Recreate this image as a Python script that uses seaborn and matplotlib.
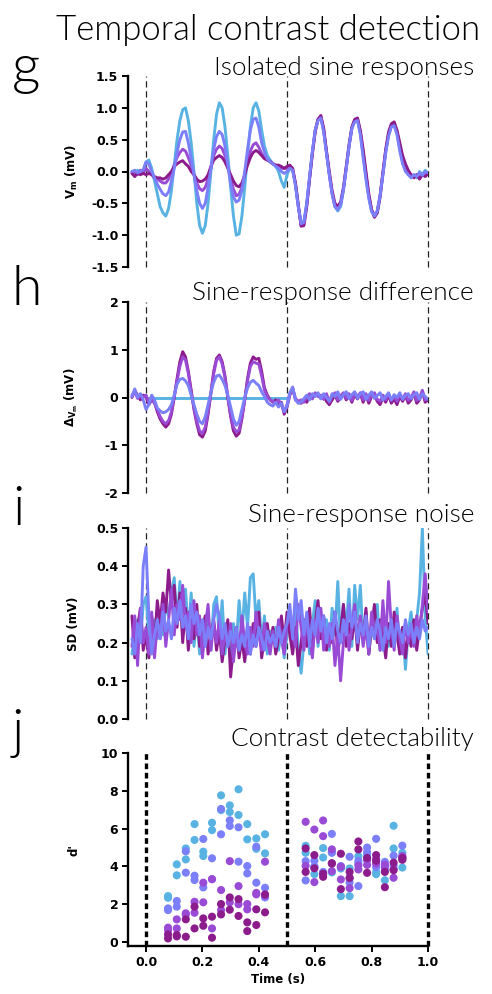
import numpy as np
import pandas as pd
import matplotlib
matplotlib.use("Agg")
import matplotlib.pyplot as plt
import seaborn as sns

# ---------------- data ----------------
# sampling times of traces (s), 10 ms grid from -0.05 to 1.00
t = np.round(np.arange(-0.05, 1.0 + 1e-9, 0.01), 2)

conds = ["c1", "c2", "c3", "c4"]          # cyan, periwinkle, violet, dark purple
colors = {"c1": "#58b3e3", "c2": "#7c7ffa", "c3": "#9a4bd6", "c4": "#8c1c8c"}

# g: isolated sine responses (mV)
g_c1 = [0.00, -0.03, 0.02, -0.03, 0.00, 0.15, 0.18, 0.05, -0.15, -0.35,
        -0.55, -0.65, -0.70, -0.58, -0.30, 0.10, 0.50, 0.80, 0.97, 1.00,
        0.80, 0.45, 0.00, -0.50, -0.85, -0.97, -0.85, -0.50, 0.00, 0.50,
        0.90, 1.08, 1.00, 0.70, 0.25, -0.25, -0.70, -1.00, -0.98, -0.70,
        -0.25, 0.25, 0.70, 1.00, 1.08, 0.95, 0.65, 0.40, 0.25, 0.18,
        0.12, 0.08, 0.00, -0.15, -0.25, -0.05, 0.05, 0.02, -0.20, -0.55,
        -0.80, -0.78, -0.50, -0.10, 0.30, 0.65, 0.82, 0.85, 0.65, 0.30,
        -0.05, -0.35, -0.55, -0.62, -0.55, -0.30, 0.05, 0.40, 0.68, 0.80,
        0.82, 0.60, 0.25, -0.10, -0.40, -0.62, -0.70, -0.65, -0.40, -0.05,
        0.30, 0.58, 0.72, 0.75, 0.60, 0.35, 0.15, 0.05, -0.05, -0.08,
        -0.05, -0.10, 0.00, -0.05, 0.02, -0.03]
g_c2 = [0.00, 0.02, -0.02, 0.00, 0.03, 0.15, 0.12, 0.00, -0.10, -0.20,
        -0.28, -0.35, -0.38, -0.32, -0.15, 0.05, 0.30, 0.50, 0.62, 0.63,
        0.45, 0.20, -0.05, -0.30, -0.50, -0.58, -0.50, -0.25, 0.05, 0.35,
        0.55, 0.63, 0.58, 0.40, 0.10, -0.20, -0.40, -0.48, -0.45, -0.30,
        0.00, 0.35, 0.65, 0.82, 0.84, 0.70, 0.45, 0.30, 0.20, 0.15,
        0.12, 0.08, 0.05, 0.00, -0.03, 0.00, 0.05, 0.02, -0.22, -0.55,
        -0.82, -0.80, -0.50, -0.08, 0.32, 0.65, 0.80, 0.84, 0.62, 0.28,
        -0.05, -0.35, -0.55, -0.60, -0.52, -0.28, 0.05, 0.40, 0.68, 0.78,
        0.80, 0.58, 0.22, -0.12, -0.42, -0.63, -0.70, -0.62, -0.38, -0.05,
        0.30, 0.55, 0.70, 0.72, 0.58, 0.32, 0.12, 0.00, -0.05, -0.10,
        -0.05, -0.08, -0.02, -0.06, 0.00, -0.02]
g_c3 = [-0.02, 0.00, -0.05, 0.02, -0.02, 0.05, 0.00, -0.05, -0.10, -0.12,
        -0.15, -0.18, -0.18, -0.12, -0.02, 0.10, 0.22, 0.30, 0.35, 0.32,
        0.22, 0.10, -0.05, -0.18, -0.27, -0.30, -0.25, -0.12, 0.05, 0.25,
        0.35, 0.40, 0.36, 0.25, 0.08, -0.10, -0.28, -0.38, -0.36, -0.25,
        -0.05, 0.15, 0.32, 0.42, 0.45, 0.38, 0.28, 0.22, 0.18, 0.15,
        0.12, 0.10, 0.08, 0.05, 0.05, 0.05, 0.08, 0.03, -0.20, -0.55,
        -0.85, -0.82, -0.52, -0.10, 0.30, 0.65, 0.82, 0.86, 0.65, 0.30,
        -0.05, -0.35, -0.55, -0.58, -0.52, -0.28, 0.05, 0.40, 0.68, 0.80,
        0.82, 0.62, 0.30, -0.05, -0.38, -0.60, -0.70, -0.62, -0.38, -0.02,
        0.32, 0.58, 0.72, 0.75, 0.62, 0.40, 0.20, 0.05, -0.02, -0.05,
        -0.08, -0.05, -0.10, -0.04, -0.06, -0.02]
g_c4 = [-0.03, -0.08, -0.02, -0.05, -0.03, -0.05, -0.03, -0.05, -0.08, -0.10,
        -0.10, -0.12, -0.10, -0.05, 0.00, 0.08, 0.12, 0.15, 0.17, 0.12,
        0.08, 0.00, -0.05, -0.12, -0.16, -0.15, -0.12, -0.05, 0.08, 0.18,
        0.22, 0.25, 0.22, 0.15, 0.05, -0.05, -0.15, -0.22, -0.24, -0.18,
        -0.05, 0.10, 0.22, 0.30, 0.33, 0.30, 0.25, 0.20, 0.18, 0.16,
        0.12, 0.10, 0.10, 0.08, 0.05, 0.08, 0.10, 0.05, -0.18, -0.52,
        -0.86, -0.85, -0.55, -0.12, 0.28, 0.62, 0.82, 0.88, 0.68, 0.32,
        0.00, -0.30, -0.50, -0.55, -0.48, -0.25, 0.08, 0.42, 0.70, 0.82,
        0.84, 0.65, 0.35, 0.00, -0.35, -0.60, -0.72, -0.65, -0.40, -0.02,
        0.35, 0.62, 0.75, 0.78, 0.65, 0.45, 0.25, 0.12, 0.02, -0.05,
        -0.10, -0.05, -0.12, -0.05, -0.08, -0.03]

# h: sine-response difference (mV); c1 is the flat reference over the first half
h_c1_t = [0.0, 0.5]
h_c1 = [0.0, 0.0]
h_c2 = [0.02, 0.18, 0.00, 0.08, -0.05, -0.25, -0.15, 0.05, -0.05, -0.22,
        -0.28, -0.32, -0.30, -0.25, -0.15, 0.05, 0.28, 0.38, 0.40, 0.35,
        0.25, 0.05, -0.15, -0.35, -0.50, -0.55, -0.40, -0.15, 0.10, 0.32,
        0.45, 0.47, 0.38, 0.25, 0.05, -0.20, -0.45, -0.58, -0.50, -0.25,
        0.00, 0.20, 0.32, 0.36, 0.30, 0.25, 0.12, 0.02, -0.10, -0.15,
        -0.18, -0.10, -0.20, -0.12, -0.30, -0.18, 0.10, 0.22, -0.05, -0.12,
        -0.10, -0.02, 0.05, -0.05, 0.08, 0.02, 0.10, -0.03, 0.08, 0.00,
        -0.08, 0.08, 0.02, 0.12, -0.04, 0.06, 0.12, -0.02, 0.06, 0.12,
        -0.02, 0.08, 0.12, -0.04, 0.05, 0.12, -0.02, 0.04, 0.10, -0.05,
        0.02, 0.10, -0.05, 0.06, 0.00, 0.10, -0.04, 0.04, 0.08, -0.02,
        0.06, 0.10, -0.04, 0.08, 0.02, -0.04]
h_c3 = [0.05, 0.12, -0.02, 0.05, 0.00, 0.05, -0.10, -0.05, -0.12, -0.25,
        -0.40, -0.50, -0.55, -0.48, -0.30, 0.02, 0.35, 0.65, 0.85, 0.78,
        0.50, 0.12, -0.22, -0.50, -0.70, -0.75, -0.62, -0.30, 0.08, 0.50,
        0.78, 0.85, 0.70, 0.42, 0.00, -0.35, -0.62, -0.72, -0.68, -0.40,
        -0.05, 0.35, 0.65, 0.75, 0.72, 0.70, 0.45, 0.15, 0.02, -0.05,
        -0.08, -0.12, -0.05, -0.15, -0.30, -0.15, 0.08, 0.18, -0.02, -0.08,
        -0.05, -0.10, 0.02, 0.08, -0.03, 0.10, 0.02, 0.05, -0.04, 0.08,
        -0.10, 0.02, 0.10, -0.05, 0.04, 0.10, -0.02, 0.08, -0.06, 0.10,
        0.02, 0.10, -0.05, 0.08, -0.06, 0.05, 0.10, -0.04, -0.08, 0.05,
        -0.05, 0.08, -0.06, 0.02, -0.08, 0.06, -0.03, 0.08, -0.06, 0.00,
        0.12, -0.06, 0.00, 0.15, -0.05, -0.02]
h_c4 = [0.00, 0.15, 0.05, -0.05, 0.05, 0.02, -0.15, -0.05, -0.10, -0.30,
        -0.45, -0.55, -0.62, -0.55, -0.35, 0.00, 0.40, 0.75, 0.96, 0.85,
        0.55, 0.15, -0.25, -0.55, -0.78, -0.83, -0.70, -0.35, 0.10, 0.55,
        0.82, 0.89, 0.75, 0.45, 0.00, -0.40, -0.70, -0.81, -0.75, -0.45,
        -0.05, 0.40, 0.72, 0.85, 0.80, 0.82, 0.55, 0.20, 0.05, -0.05,
        -0.10, -0.05, -0.15, -0.10, -0.35, -0.20, 0.05, 0.20, -0.05, -0.10,
        -0.12, -0.05, -0.10, 0.05, 0.00, 0.08, 0.05, -0.02, 0.06, -0.08,
        -0.15, -0.05, 0.05, -0.08, 0.00, 0.08, -0.05, 0.05, -0.10, 0.06,
        -0.03, 0.08, -0.10, 0.05, -0.12, 0.02, 0.06, -0.08, -0.15, 0.00,
        -0.10, 0.05, -0.12, -0.03, -0.15, 0.02, -0.08, 0.04, -0.12, -0.05,
        0.10, -0.12, -0.05, 0.12, -0.10, -0.05]

# i: sine-response noise, SD (mV)
i_c1 = [0.17, 0.22, 0.26, 0.20, 0.30, 0.32, 0.22, 0.18, 0.26, 0.21,
        0.28, 0.22, 0.30, 0.27, 0.33, 0.37, 0.25, 0.36, 0.28, 0.34,
        0.22, 0.33, 0.19, 0.27, 0.17, 0.25, 0.20, 0.28, 0.18, 0.30,
        0.32, 0.21, 0.31, 0.17, 0.24, 0.15, 0.25, 0.19, 0.31, 0.22,
        0.33, 0.24, 0.37, 0.38, 0.26, 0.31, 0.20, 0.27, 0.17, 0.23,
        0.20, 0.24, 0.18, 0.23, 0.16, 0.22, 0.27, 0.20, 0.30, 0.18,
        0.12, 0.20, 0.27, 0.17, 0.25, 0.31, 0.19, 0.28, 0.22, 0.26,
        0.18, 0.29, 0.22, 0.36, 0.20, 0.30, 0.24, 0.34, 0.19, 0.35,
        0.26, 0.35, 0.20, 0.28, 0.17, 0.25, 0.21, 0.30, 0.18, 0.27,
        0.22, 0.19, 0.26, 0.20, 0.29, 0.17, 0.24, 0.13, 0.23, 0.28,
        0.21, 0.26, 0.33, 0.50, 0.27, 0.17]
i_c2 = [0.21, 0.17, 0.25, 0.20, 0.40, 0.45, 0.27, 0.17, 0.22, 0.26,
        0.21, 0.28, 0.23, 0.26, 0.21, 0.29, 0.25, 0.31, 0.24, 0.27,
        0.21, 0.30, 0.25, 0.28, 0.22, 0.26, 0.19, 0.24, 0.21, 0.26,
        0.30, 0.27, 0.21, 0.25, 0.19, 0.23, 0.20, 0.24, 0.18, 0.22,
        0.19, 0.25, 0.17, 0.22, 0.19, 0.24, 0.21, 0.18, 0.23, 0.20,
        0.22, 0.19, 0.24, 0.20, 0.23, 0.25, 0.30, 0.21, 0.34, 0.26,
        0.31, 0.22, 0.28, 0.19, 0.26, 0.22, 0.29, 0.23, 0.27, 0.20,
        0.25, 0.21, 0.28, 0.23, 0.20, 0.26, 0.22, 0.30, 0.24, 0.28,
        0.20, 0.25, 0.22, 0.27, 0.19, 0.24, 0.21, 0.26, 0.23, 0.18,
        0.24, 0.21, 0.26, 0.19, 0.25, 0.23, 0.20, 0.26, 0.22, 0.25,
        0.20, 0.24, 0.21, 0.26, 0.23, 0.24]
i_c3 = [0.19, 0.27, 0.14, 0.29, 0.20, 0.24, 0.17, 0.28, 0.16, 0.25,
        0.21, 0.30, 0.19, 0.26, 0.34, 0.22, 0.30, 0.26, 0.35, 0.24,
        0.28, 0.20, 0.31, 0.22, 0.27, 0.16, 0.24, 0.30, 0.18, 0.25,
        0.20, 0.26, 0.17, 0.23, 0.19, 0.25, 0.15, 0.22, 0.18, 0.27,
        0.20, 0.17, 0.24, 0.19, 0.28, 0.22, 0.18, 0.25, 0.21, 0.17,
        0.23, 0.19, 0.26, 0.21, 0.17, 0.25, 0.28, 0.22, 0.19, 0.30,
        0.24, 0.18, 0.27, 0.21, 0.16, 0.26, 0.20, 0.29, 0.18, 0.23,
        0.19, 0.25, 0.14, 0.22, 0.10, 0.20, 0.26, 0.18, 0.24, 0.30,
        0.21, 0.27, 0.19, 0.24, 0.17, 0.28, 0.22, 0.25, 0.18, 0.31,
        0.20, 0.36, 0.24, 0.18, 0.27, 0.21, 0.17, 0.25, 0.20, 0.24,
        0.19, 0.27, 0.22, 0.30, 0.38, 0.28]
i_c4 = [0.27, 0.16, 0.24, 0.29, 0.18, 0.22, 0.16, 0.27, 0.20, 0.31,
        0.25, 0.33, 0.28, 0.39, 0.30, 0.35, 0.24, 0.33, 0.20, 0.29,
        0.18, 0.26, 0.21, 0.30, 0.19, 0.24, 0.27, 0.17, 0.22, 0.26,
        0.18, 0.23, 0.15, 0.21, 0.26, 0.11, 0.19, 0.24, 0.16, 0.21,
        0.15, 0.22, 0.17, 0.25, 0.19, 0.28, 0.16, 0.21, 0.25, 0.19,
        0.24, 0.17, 0.21, 0.27, 0.20, 0.28, 0.22, 0.17, 0.24, 0.14,
        0.20, 0.26, 0.19, 0.29, 0.18, 0.25, 0.31, 0.21, 0.27, 0.18,
        0.24, 0.20, 0.28, 0.17, 0.23, 0.30, 0.19, 0.25, 0.21, 0.27,
        0.18, 0.25, 0.21, 0.29, 0.17, 0.24, 0.30, 0.20, 0.26, 0.22,
        0.16, 0.25, 0.19, 0.28, 0.22, 0.17, 0.24, 0.16, 0.23, 0.19,
        0.26, 0.18, 0.24, 0.29, 0.33, 0.25]

# j: contrast detectability d' per time bin (two estimates per condition and bin)
j_t = [0.078, 0.109, 0.141, 0.172, 0.203, 0.234, 0.266, 0.297, 0.328, 0.359, 0.391, 0.422,
       0.566, 0.597, 0.628, 0.659, 0.691, 0.722, 0.753, 0.784, 0.816, 0.847, 0.878, 0.909]
j_c1_a = [2.43, 4.11, 4.95, 6.24, 4.78, 6.31, 7.76, 7.23, 8.08, 6.24, 5.48, 5.70,
          5.09, 3.59, 4.97, 4.75, 3.89, 3.89, 4.54, 4.65, 3.59, 3.80, 6.15, 4.72]
j_c1_b = [2.34, 3.53, 4.37, 5.40, 4.55, 5.92, 6.98, 6.88, 6.72, 5.43, 4.93, 4.69,
          4.72, 3.95, 4.47, 3.68, 2.43, 2.43, 4.15, 4.45, 3.70, 3.27, 4.95, 3.94]
j_c2_a = [1.78, 2.17, 4.80, 3.51, 5.45, 4.43, 7.04, 6.44, 6.07, 4.02, 5.04, 2.36,
          4.28, 4.30, 3.71, 5.72, 4.02, 4.51, 4.30, 5.00, 5.46, 4.24, 4.57, 5.10]
j_c2_b = [1.69, 1.87, 3.67, 3.28, 2.89, 3.32, 5.70, 6.14, 4.25, 3.63, 3.14, 2.87,
          3.26, 4.00, 3.61, 4.72, 3.95, 3.15, 2.96, 4.75, 3.96, 4.04, 4.04, 4.50]
j_c3_a = [0.76, 1.20, 1.52, 2.13, 3.14, 3.33, 2.75, 4.28, 2.96, 2.01, 2.60, 4.25,
          6.36, 5.95, 6.43, 4.90, 3.31, 3.37, 3.84, 4.33, 4.15, 4.10, 3.85, 4.40]
j_c3_b = [0.63, 0.72, 1.45, 1.55, 2.10, 0.72, 1.69, 2.10, 2.00, 1.73, 2.52, 2.45,
          4.03, 3.17, 5.60, 3.75, 3.98, 2.85, 4.05, 4.08, 4.40, 3.95, 3.40, 4.55]
j_c4_a = [0.40, 0.37, 1.20, 1.87, 1.25, 1.34, 2.01, 2.36, 2.27, 1.04, 1.73, 2.52,
          4.95, 4.60, 3.45, 4.17, 4.67, 3.71, 5.32, 4.45, 4.60, 3.71, 3.80, 4.35]
j_c4_b = [0.19, 0.30, 0.28, 0.72, 0.86, 0.23, 1.46, 1.71, 1.38, 0.58, 0.90, 1.57,
          3.71, 3.90, 3.62, 4.15, 2.80, 3.40, 4.90, 3.66, 4.30, 2.90, 4.20, 4.45]

stim_edges = [0.0, 0.5, 1.0]

# ---------------- tables ----------------
def long_traces(series):
    frames = []
    for cond, (tt, vals) in series.items():
        assert len(tt) == len(vals), (cond, len(tt), len(vals))
        frames.append(pd.DataFrame({"time": tt, "value": vals, "cond": cond}))
    return pd.concat(frames, ignore_index=True)

df_g = long_traces({"c1": (t, g_c1), "c3": (t, g_c3), "c4": (t, g_c4), "c2": (t, g_c2)})
df_h = long_traces({"c1": (h_c1_t, h_c1), "c4": (t, h_c4), "c3": (t, h_c3), "c2": (t, h_c2)})
df_i = long_traces({"c1": (t, i_c1), "c4": (t, i_c4), "c3": (t, i_c3), "c2": (t, i_c2)})
df_j = long_traces({
    "c1": (j_t + j_t, j_c1_a + j_c1_b),
    "c2": (j_t + j_t, j_c2_a + j_c2_b),
    "c3": (j_t + j_t, j_c3_a + j_c3_b),
    "c4": (j_t + j_t, j_c4_a + j_c4_b),
})

# ---------------- figure ----------------
sns.set_style("ticks")
plt.rcParams["font.family"] = ["DejaVu Sans"]
plt.rcParams["mathtext.fontset"] = "dejavusans"
plt.rcParams["text.color"] = "black"
plt.rcParams["axes.labelcolor"] = "black"
plt.rcParams["xtick.color"] = "black"
plt.rcParams["ytick.color"] = "black"
plt.rcParams["axes.edgecolor"] = "black"

W, H = 492, 994
fig = plt.figure(figsize=(W / 100, H / 100), dpi=100)
fig.patch.set_facecolor("white")

def rect(top, bottom, left=128, right=428):
    return [left / W, 1 - bottom / H, (right - left) / W, (bottom - top) / H]

XL = (-0.064, 1.0)
tick_kw = dict(labelsize=9, width=1.4, length=4.5, direction="out",
               color="black", labelcolor="black", pad=2.5)

def style_axis(ax, ylim, yticks, yfmt, ylabel, show_x=False):
    ax.set_xlim(*XL)
    ax.set_ylim(*ylim)
    ax.set_yticks(yticks)
    ax.set_yticklabels([yfmt.format(v) for v in yticks], fontweight="bold")
    ax.tick_params(axis="y", **tick_kw)
    for s in ["top", "right"]:
        ax.spines[s].set_visible(False)
    ax.spines["left"].set_linewidth(1.7)
    ax.spines["left"].set_color("black")
    if show_x:
        ax.spines["bottom"].set_linewidth(1.7)
        ax.spines["bottom"].set_color("black")
        ax.tick_params(axis="x", **tick_kw)
    else:
        ax.spines["bottom"].set_visible(False)
        ax.set_xticks([])
    ax.set_xlabel("")
    ax.set_ylabel(ylabel, fontsize=8.5, fontweight="bold", color="black")
    ax.yaxis.set_label_coords(-0.16, 0.5)

def vlines(ax, thick=False):
    for x in stim_edges:
        if thick:
            ax.axvline(x, color="black", lw=2.4, ls=(0, (1.7, 1.1)), clip_on=False, zorder=1)
        else:
            ax.axvline(x, color="#222222", lw=0.9, ls=(0, (5, 3)), clip_on=False, zorder=1)

pal = colors

# panel g
ax_g = fig.add_axes(rect(76, 267))
vlines(ax_g)
sns.lineplot(data=df_g, x="time", y="value", hue="cond", palette=pal,
             hue_order=["c1", "c3", "c4", "c2"], estimator=None, sort=False,
             lw=2.1, legend=False, ax=ax_g, zorder=3)
style_axis(ax_g, (-1.5, 1.5), [-1.5, -1.0, -0.5, 0.0, 0.5, 1.0, 1.5], "{:.1f}",
           r"$\mathbf{V_m}$ (mV)")

# panel h
ax_h = fig.add_axes(rect(302, 493))
vlines(ax_h)
sns.lineplot(data=df_h, x="time", y="value", hue="cond", palette=pal,
             hue_order=["c1", "c4", "c3", "c2"], estimator=None, sort=False,
             lw=2.1, legend=False, ax=ax_h, zorder=3)
style_axis(ax_h, (-2, 2), [-2, -1, 0, 1, 2], "{:d}",
           r"$\mathbf{\Delta_{V_m}}$ (mV)")

# panel i
ax_i = fig.add_axes(rect(528, 719))
vlines(ax_i)
sns.lineplot(data=df_i, x="time", y="value", hue="cond", palette=pal,
             hue_order=["c1", "c4", "c3", "c2"], estimator=None, sort=False,
             lw=2.1, legend=False, ax=ax_i, zorder=3)
style_axis(ax_i, (0, 0.5), [0.0, 0.1, 0.2, 0.3, 0.4, 0.5], "{:.1f}", "SD (mV)")

# panel j
ax_j = fig.add_axes(rect(753, 946))
vlines(ax_j, thick=True)
sns.scatterplot(data=df_j, x="time", y="value", hue="cond", palette=pal,
                hue_order=["c1", "c2", "c3", "c4"], s=34, linewidth=0,
                legend=False, ax=ax_j, zorder=3)
style_axis(ax_j, (-0.21, 10), [0, 2, 4, 6, 8, 10], "{:d}", "d'", show_x=True)
ax_j.set_xticks([0.0, 0.2, 0.4, 0.6, 0.8, 1.0])
ax_j.set_xticklabels(["0.0", "0.2", "0.4", "0.6", "0.8", "1.0"], fontweight="bold")
ax_j.set_xlabel("Time (s)", fontsize=8.5, fontweight="bold", labelpad=3, color="black")

# titles and panel letters
title_font = ["Lato", "DejaVu Sans"]
def ftext(x, y, s, **kw):
    fig.text(x / W, 1 - y / H, s, color="black", **kw)

ftext(268, 40, "Temporal contrast detection", fontsize=25, ha="center", va="baseline",
      family=title_font, fontweight=300)
subs = [(75, "Isolated sine responses"), (300, "Sine-response difference"),
        (522, "Sine-response noise"), (746, "Contrast detectability")]
for y, s in subs:
    ftext(474, y, s, fontsize=18.8, ha="right", va="baseline", family=title_font,
          fontweight=300)
letters = [(84, "g"), (305, "h"), (525, "i"), (748, "j")]
for y, s in letters:
    ftext(12, y, s, fontsize=40, ha="left", va="baseline", family=title_font,
          fontweight=300)

fig.savefig("out.png", dpi=100, facecolor="white")
